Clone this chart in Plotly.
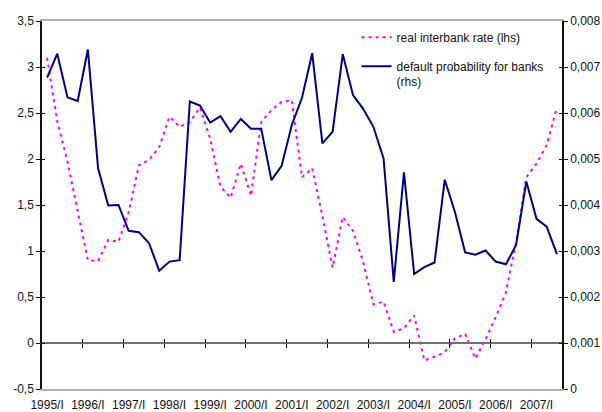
import plotly.graph_objects as go

# ---- data (quarterly, 1995/I .. 2007/III) ----
quarters = [f"{y}/{q}" for y in range(1995, 2008) for q in ["I", "II", "III", "IV"]][:51]

interbank_rate = [
    3.10, 2.41, 1.97, 1.45, 0.90, 0.89, 1.12, 1.10, 1.42, 1.93,
    1.99, 2.13, 2.46, 2.35, 2.40, 2.56, 2.22, 1.70, 1.58, 1.95,
    1.60, 2.40, 2.53, 2.62, 2.64, 1.80, 1.90, 1.38, 0.82, 1.37,
    1.22, 0.88, 0.42, 0.45, 0.12, 0.16, 0.30, -0.19, -0.15, -0.10,
    0.05, 0.10, -0.17, 0.04, 0.28, 0.55, 1.10, 1.80, 1.95, 2.15,
    2.56,
]

default_prob = [
    0.00677, 0.00729, 0.00634, 0.00626, 0.00738, 0.00480, 0.00399, 0.00400, 0.00344, 0.00341,
    0.00317, 0.00257, 0.00277, 0.00280, 0.00625, 0.00616, 0.00579, 0.00593, 0.00559, 0.00587,
    0.00566, 0.00566, 0.00454, 0.00485, 0.00574, 0.00633, 0.00730, 0.00534, 0.00559, 0.00728,
    0.00639, 0.00609, 0.00570, 0.00501, 0.00233, 0.00471, 0.00250, 0.00265, 0.00275, 0.00455,
    0.00385, 0.00297, 0.00292, 0.00301, 0.00277, 0.00271, 0.00313, 0.00451, 0.00370, 0.00353,
    0.00293,
]

year_labels = [f"{y}/I" for y in range(1995, 2008)]
left_vals = [-0.5, 0, 0.5, 1, 1.5, 2, 2.5, 3, 3.5]
left_text = ["-0,5", "0", "0,5", "1", "1,5", "2", "2,5", "3", "3,5"]
right_vals = [0, 0.001, 0.002, 0.003, 0.004, 0.005, 0.006, 0.007, 0.008]
right_text = ["0", "0,001", "0,002", "0,003", "0,004", "0,005", "0,006", "0,007", "0,008"]

n = len(quarters)
idx = list(range(n))
xr = [-0.5, n - 0.5]
label_pos = [i for i in idx if i % 4 == 0]
boundary_pos = [i - 0.5 for i in idx if i % 4 == 0 and i > 0]

FONT = "Liberation Sans, Arial, sans-serif"

fig = go.Figure()
fig.add_trace(go.Scatter(
    x=idx, y=interbank_rate, name="real interbank rate (lhs)", mode="lines",
    line=dict(color="#FF00FF", width=2, dash="3px,4px"), xaxis="x", yaxis="y",
    legendgroup="a",
))
fig.add_trace(go.Scatter(
    x=idx, y=default_prob, name="default probability for banks<br>(rhs)", mode="lines",
    line=dict(color="#000080", width=2), xaxis="x", yaxis="y2",
    legendgroup="b",
))

fig.update_layout(
    width=602, height=412,
    margin=dict(l=42, r=40, t=21, b=23, autoexpand=False),
    paper_bgcolor="white", plot_bgcolor="white",
    font=dict(family=FONT, size=12, color="#111"),
    showlegend=True,
    legend=dict(x=0.605, y=0.995, xanchor="left", yanchor="top",
                bgcolor="rgba(0,0,0,0)", font=dict(size=12, color="#111"),
                tracegroupgap=10, valign="top", itemwidth=30),
    xaxis=dict(range=xr, tickvals=label_pos, ticktext=[year_labels[i // 4] for i in label_pos],
               ticks="", showline=True, mirror=True, linecolor="#b0b0b0", linewidth=1.5,
               showgrid=False, zeroline=False, ticklabelstandoff=4, automargin=False,
               tickfont=dict(size=12, color="#111")),
    xaxis2=dict(range=xr, overlaying="x", anchor="free", position=0.125,
                tickvals=boundary_pos, showticklabels=False, ticks="outside", ticklen=4,
                tickcolor="#111", tickwidth=1, showline=True, linecolor="#707070", linewidth=2,
                showgrid=False, zeroline=False),
    xaxis3=dict(range=xr, overlaying="x", anchor="free", position=0.125,
                tickvals=boundary_pos, showticklabels=False, ticks="inside", ticklen=4,
                tickcolor="#111", tickwidth=1, showline=False, showgrid=False, zeroline=False),
    yaxis=dict(range=[-0.5, 3.5], tickvals=left_vals, ticktext=left_text, ticks="outside",
               ticklen=4, tickcolor="#111", showline=True, linecolor="#111", linewidth=1.5,
               showgrid=False, zeroline=False, anchor="x", automargin=False,
               tickfont=dict(size=12, color="#111")),
    yaxis3=dict(range=[-0.5, 3.5], overlaying="y", tickvals=left_vals, showticklabels=False,
                ticks="inside", ticklen=3, tickcolor="#111", showline=False, showgrid=False,
                zeroline=False, anchor="x", side="left"),
    yaxis2=dict(range=[0, 0.008], overlaying="y", side="right", anchor="x",
                tickvals=right_vals, ticktext=right_text, ticks="outside", ticklen=4,
                tickcolor="#111", showline=True, linecolor="#111", linewidth=1.5,
                showgrid=False, zeroline=False, automargin=False,
                tickfont=dict(size=12, color="#111")),
    yaxis4=dict(range=[0, 0.008], overlaying="y", side="right", anchor="x",
                tickvals=right_vals, showticklabels=False, ticks="inside", ticklen=3,
                tickcolor="#111", showline=False, showgrid=False, zeroline=False),
)

# dummy invisible traces so the extra axes render
fig.add_trace(go.Scatter(x=[None], y=[None], xaxis="x2", yaxis="y", showlegend=False, hoverinfo="skip"))
fig.add_trace(go.Scatter(x=[None], y=[None], xaxis="x3", yaxis="y", showlegend=False, hoverinfo="skip"))
fig.add_trace(go.Scatter(x=[None], y=[None], xaxis="x", yaxis="y3", showlegend=False, hoverinfo="skip"))
fig.add_trace(go.Scatter(x=[None], y=[None], xaxis="x", yaxis="y4", showlegend=False, hoverinfo="skip"))

fig.write_html("out.html", config={"displayModeBar": False},
               post_script="document.body.style.margin='0';document.body.style.padding='0';")
